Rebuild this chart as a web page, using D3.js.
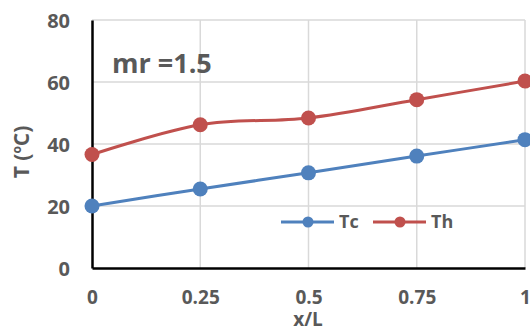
<!DOCTYPE html>
<html>
<head>
<meta charset="utf-8">
<script src="https://cdn.jsdelivr.net/npm/d3@7"></script>
<style>
  html, body { margin: 0; padding: 0; background: #fff; }
  svg { display: block; }
  text { font-family: "Open Sans", "Liberation Sans", sans-serif; font-weight: bold; fill: #595959; }
</style>
</head>
<body>
<svg id="chart" width="530" height="331"></svg>
<script>
// Positions along the channel and the two temperature profiles
const xPositions = [0, 0.25, 0.5, 0.75, 1];
const xTickLabels = ["0", "0.25", "0.5", "0.75", "1"];
const yTicks = [0, 20, 40, 60, 80];
const tcValues = [20.0, 25.5, 30.7, 36.1, 41.4];
const thValues = [36.6, 46.2, 48.4, 54.3, 60.3];
const seriesNames = ["Tc", "Th"];
const seriesColors = ["#4F81BD", "#C0504D"];
const annotation = "mr =1.5";

const svg = d3.select("#chart");
const plotLeft = 92, plotRight = 525, plotTop = 20, plotBottom = 268;

const x = d3.scaleLinear().domain([0, 1]).range([plotLeft, plotRight]);
const y = d3.scaleLinear().domain([0, 80]).range([plotBottom, plotTop]);

// Gridlines
svg.append("g").selectAll("line").data(yTicks.filter(d => d > 0)).join("line")
  .attr("x1", plotLeft).attr("x2", plotRight)
  .attr("y1", d => y(d)).attr("y2", d => y(d))
  .attr("stroke", "#d9d9d9").attr("stroke-width", 1.5);
svg.append("g").selectAll("line").data(xPositions.filter(d => d > 0)).join("line")
  .attr("x1", d => x(d)).attr("x2", d => x(d))
  .attr("y1", plotTop).attr("y2", plotBottom)
  .attr("stroke", "#d9d9d9").attr("stroke-width", 1.5);

// Axes
const yAxis = d3.axisLeft(y).tickValues(yTicks).tickSize(0).tickPadding(22);
const gy = svg.append("g").attr("transform", `translate(${plotLeft},0)`).call(yAxis);
gy.select(".domain").attr("stroke", "#000").attr("stroke-width", 2.5);
gy.selectAll("text").style("font-size", "20px").attr("dy", "0.35em");

const xAxis = d3.axisBottom(x).tickValues(xPositions).tickFormat((d, i) => xTickLabels[i]).tickSize(0).tickPadding(29);
const gx = svg.append("g").attr("transform", `translate(0,${plotBottom})`).call(xAxis);
gx.select(".domain").attr("stroke", "#000").attr("stroke-width", 2.5);
gx.selectAll("text").style("font-size", "19px").attr("dy", "0.35em");

// Series
const line = d3.line().x(d => x(d[0])).y(d => y(d[1])).curve(d3.curveCardinal.tension(0));
[tcValues, thValues].forEach((vals, i) => {
  const pts = xPositions.map((p, j) => [p, vals[j]]);
  svg.append("path").datum(pts)
    .attr("d", line).attr("fill", "none")
    .attr("stroke", seriesColors[i]).attr("stroke-width", 3);
  svg.append("g").selectAll("circle").data(pts).join("circle")
    .attr("cx", d => x(d[0])).attr("cy", d => y(d[1])).attr("r", 7.5)
    .attr("fill", seriesColors[i]);
});

// Annotation
svg.append("text").attr("x", 112).attr("y", 73)
  .style("font-size", "27px").text(annotation);

// Axis titles
const yTitle = svg.append("text")
  .attr("transform", "translate(29,152) rotate(-90)")
  .attr("text-anchor", "middle").style("font-size", "21px");
yTitle.append("tspan").text("T (");
yTitle.append("tspan").attr("baseline-shift", "super").style("font-size", "12px").text("o");
yTitle.append("tspan").text("C)");

svg.append("text").attr("x", 308).attr("y", 326)
  .attr("text-anchor", "middle").style("font-size", "19px").text("x/L");

// Legend
const legendX = [281, 373];
seriesNames.forEach((name, i) => {
  const g = svg.append("g").attr("transform", `translate(${legendX[i]},222)`);
  g.append("line").attr("x1", 0).attr("x2", 53).attr("y1", 0).attr("y2", 0)
    .attr("stroke", seriesColors[i]).attr("stroke-width", 3);
  g.append("circle").attr("cx", 27).attr("cy", 0).attr("r", 5.5).attr("fill", seriesColors[i]);
  g.append("text").attr("x", 58).attr("y", 0).attr("dy", "0.35em")
    .style("font-size", "18px").text(name);
});
</script>
</body>
</html>
